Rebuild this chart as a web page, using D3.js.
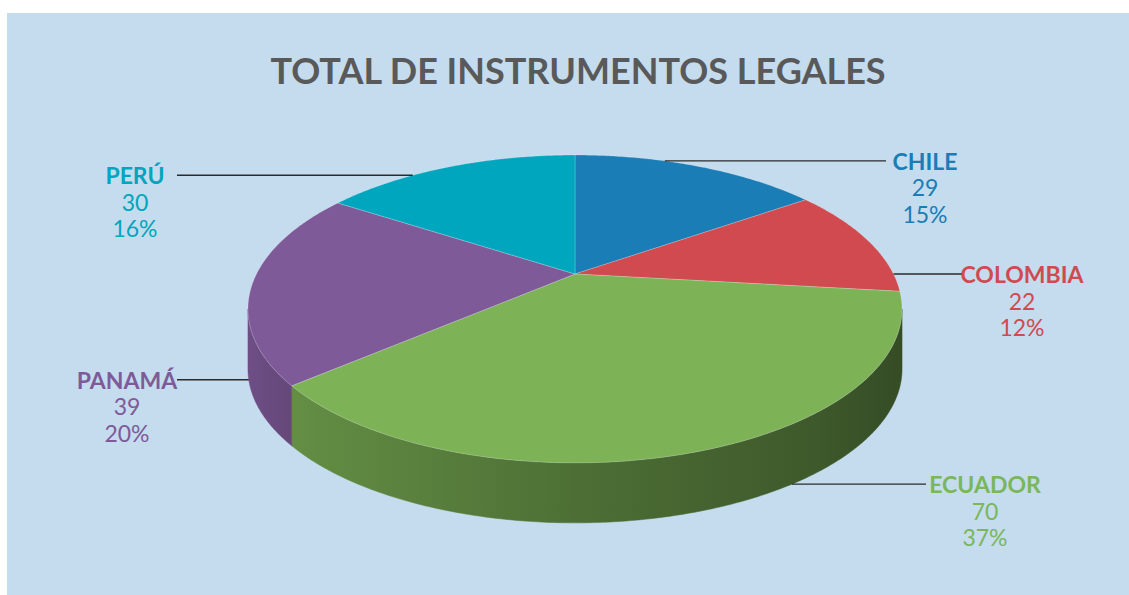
<!DOCTYPE html>
<html>
<head>
<meta charset="utf-8">
<script src="https://cdn.jsdelivr.net/npm/d3@7"></script>
<style>
  body { margin: 0; background: #fff; }
  svg { display: block; font-family: Lato, "Open Sans", sans-serif; }
</style>
</head>
<body>
<svg id="chart" width="1129" height="595"></svg>
<script>
const countries = ["CHILE", "COLOMBIA", "ECUADOR", "PANAMÁ", "PERÚ"];
const counts = [29, 22, 70, 39, 30];
const percentLabels = ["15%", "12%", "37%", "20%", "16%"];
const topColors = ["#1a7db5", "#d04a50", "#7db356", "#7f5a99", "#00a6bd"];
const labelColors = ["#1a7db5", "#d04a50", "#7ab65a", "#7f5a99", "#00a6bd"];

// leader line / label layout per slice
const labelLayout = {
  "CHILE":    { angle: 20,    rim: "top",    lineEnd: 886, textX: 925 },
  "COLOMBIA": { angle: 90,    rim: "top",    lineEnd: 962, textX: 1022 },
  "ECUADOR":  { angle: 146.5, rim: "bottom", lineEnd: 926, textX: 985 },
  "PANAMÁ":   { angle: 253,   rim: "bottom", lineEnd: 177, textX: 127 },
  "PERÚ":     { angle: 323,   rim: "top",    lineEnd: 177, textX: 135 }
};

const svg = d3.select("#chart");
const width = 1129, height = 595;

svg.append("rect")
  .attr("x", 7).attr("y", 13)
  .attr("width", width - 7).attr("height", height - 13)
  .attr("fill", "#c4dcee");

svg.append("text")
  .attr("x", 578).attr("y", 84)
  .attr("text-anchor", "middle")
  .attr("font-size", 36)
  .attr("font-weight", 700)
  .attr("fill", "#595959")
  .text("TOTAL DE INSTRUMENTOS LEGALES");

// perspective pie: disc projected with a simple homography
const cx = 575, cy = 274, A = 318.5, B = 146, P = 0.227, H = 60;
function proj(a, depth) {
  const u = Math.sin(a), v = -Math.cos(a);
  const w = 1 - P * v;
  return [cx + A * u / w, cy + B * v / w + depth];
}
function arcPts(a0, a1, depth) {
  const n = Math.max(2, Math.ceil(Math.abs(a1 - a0) / 0.01));
  return d3.range(n + 1).map(i => proj(a0 + (a1 - a0) * i / n, depth));
}

const data = countries.map((c, i) => ({ name: c, value: counts[i], pct: percentLabels[i], color: topColors[i], label: labelColors[i] }));
const arcs = d3.pie().sort(null).value(d => d.value)(data);

const xMin = cx - A / Math.sqrt(1 - P * P), xMax = cx + A / Math.sqrt(1 - P * P);
const thR = Math.acos(-P), thL = 2 * Math.PI - thR;

const defs = svg.append("defs");
arcs.forEach((d, i) => {
  const base = d3.color(d.data.color);
  const g = defs.append("linearGradient")
    .attr("id", "side" + i)
    .attr("gradientUnits", "userSpaceOnUse")
    .attr("x1", xMin).attr("x2", xMax).attr("y1", 0).attr("y2", 0);
  [[0, 0.4], [0.07, 0.65], [0.5, 1.35], [0.87, 1.95], [1, 2.4]].forEach(([o, k]) => {
    g.append("stop").attr("offset", o).attr("stop-color", base.darker(k));
  });
});

const pie = svg.append("g");

// sides (only the front half is visible)
arcs.forEach((d, i) => {
  const s = Math.max(d.startAngle, thR), e = Math.min(d.endAngle, thL);
  if (e <= s) return;
  const pts = arcPts(s, e, 0).concat(arcPts(e, s, H));
  pie.append("path")
    .attr("d", "M" + pts.map(p => p.join(",")).join("L") + "Z")
    .attr("fill", `url(#side${i})`)
    .attr("stroke", `url(#side${i})`)
    .attr("stroke-width", 0.5);
});

// top faces
arcs.forEach(d => {
  const pts = [proj(0, 0).map((v, k) => k ? cy : cx)].concat(arcPts(d.startAngle, d.endAngle, 0));
  pie.append("path")
    .attr("d", "M" + pts.map(p => p.join(",")).join("L") + "Z")
    .attr("fill", d.data.color)
    .attr("stroke", "rgba(255,255,255,0.3)")
    .attr("stroke-width", 0.7);
});

// leader lines and labels
const labels = svg.append("g");
arcs.forEach(d => {
  const lay = labelLayout[d.data.name];
  const p = proj(lay.angle * Math.PI / 180, lay.rim === "bottom" ? H : 0);
  labels.append("line")
    .attr("x1", p[0]).attr("y1", p[1])
    .attr("x2", lay.lineEnd).attr("y2", p[1])
    .attr("stroke", "#2b2b2b")
    .attr("stroke-width", 1.4);
  const t = labels.append("text")
    .attr("text-anchor", "middle")
    .attr("fill", d.data.label)
    .attr("font-size", 23);
  t.append("tspan").attr("x", lay.textX).attr("y", p[1] + 9)
    .attr("font-weight", 700).text(d.data.name);
  t.append("tspan").attr("x", lay.textX).attr("dy", 26.5).text(d.data.value);
  t.append("tspan").attr("x", lay.textX).attr("dy", 26.5).text(d.data.pct);
});
</script>
</body>
</html>
